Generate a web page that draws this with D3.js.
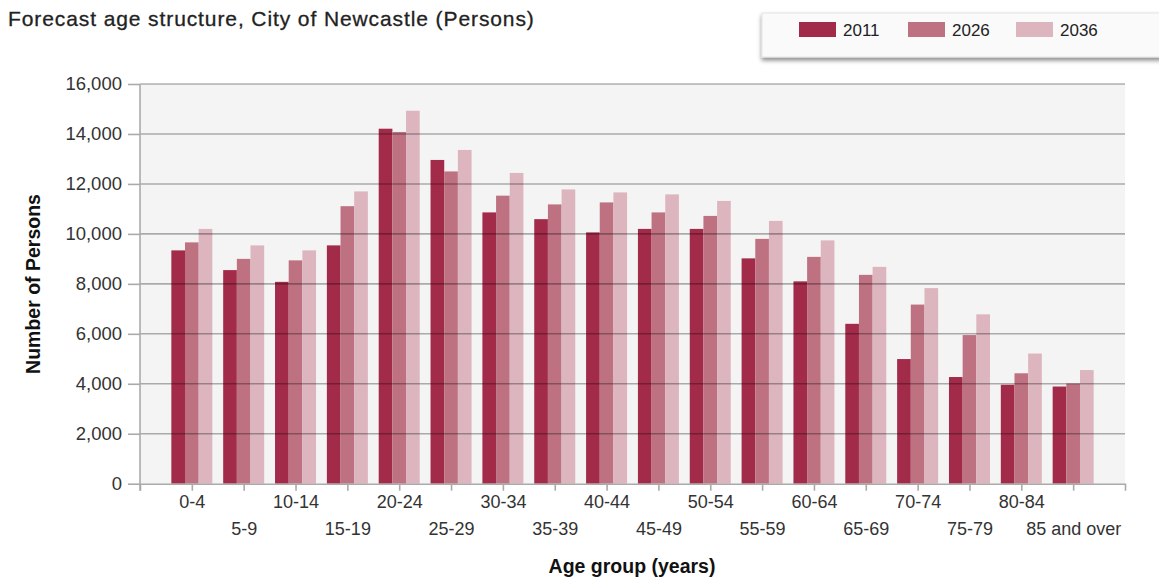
<!DOCTYPE html>
<html>
<head>
<meta charset="utf-8">
<script src="https://cdn.jsdelivr.net/npm/d3@7"></script>
<style>
  body { margin: 0; background: #fff; }
  text { font-family: "Liberation Sans", Arial, sans-serif; }
</style>
</head>
<body>
<div id="chart"></div>
<script>
// chart data
var ageGroups = ["0-4", "5-9", "10-14", "15-19", "20-24", "25-29", "30-34", "35-39", "40-44",
    "45-49", "50-54", "55-59", "60-64", "65-69", "70-74", "75-79", "80-84", "85 and over"];
var years = ["2011", "2026", "2036"];
var values2011 = [9340, 8550, 8080, 9540, 14210, 12960, 10860, 10590, 10060, 10200, 10200, 9020, 8100, 6400, 4990, 4270, 3960, 3890];
var values2026 = [9660, 9000, 8940, 11110, 14080, 12500, 11530, 11180, 11260, 10860, 10720, 9800, 9080, 8360, 7170, 5950, 4420, 4010];
var values2036 = [10200, 9540, 9340, 11700, 14930, 13360, 12440, 11780, 11660, 11580, 11320, 10520, 9740, 8680, 7830, 6780, 5210, 4550];
var yTicks = [0, 2000, 4000, 6000, 8000, 10000, 12000, 14000, 16000];

var seriesValues = { "2011": values2011, "2026": values2026, "2036": values2036 };

// colours for each year
var colorMapping = { "2011": "#a32b4a", "2026": "#be7281", "2036": "#ddb5bf" };

var w = 1159, h = 583;
var plotLeft = 140, plotRight = 1125, plotTop = 84, plotBottom = 483.7;

var svg = d3.select("#chart").append("svg")
    .attr("width", w)
    .attr("height", h);

// shadow for the legend box
var defs = svg.append("defs");
var filter = defs.append("filter").attr("id", "shadow")
    .attr("x", "-5%").attr("y", "-20%").attr("width", "110%").attr("height", "160%");
filter.append("feDropShadow")
    .attr("dx", 0).attr("dy", 3).attr("stdDeviation", 2)
    .attr("flood-color", "#000").attr("flood-opacity", 0.45);

// scales
var xScale = d3.scalePoint()
    .domain(ageGroups)
    .range([plotLeft, plotRight])
    .padding(1);

var innerScale = d3.scaleBand()
    .domain(years)
    .range([-20.5, 20.5]);

var yScale = d3.scaleLinear()
    .domain([0, 16000])
    .range([plotBottom, plotTop]);

// plot background
svg.append("rect")
    .attr("x", plotLeft).attr("y", plotTop)
    .attr("width", plotRight - plotLeft).attr("height", plotBottom - plotTop)
    .attr("fill", "#f4f4f4");

// bars
var rows = [];
ageGroups.forEach(function(age, i) {
    years.forEach(function(yr) {
        rows.push({ age: age, year: yr, value: seriesValues[yr][i] });
    });
});

svg.append("g").selectAll("rect")
    .data(rows)
    .enter()
    .append("rect")
    .attr("x", d => xScale(d.age) + innerScale(d.year))
    .attr("y", d => yScale(d.value))
    .attr("width", innerScale.bandwidth())
    .attr("height", d => yScale(0) - yScale(d.value))
    .attr("fill", d => colorMapping[d.year]);

// gridlines drawn on top, semi transparent
svg.append("g").selectAll("line")
    .data(yTicks.filter(d => d > 0))
    .enter()
    .append("line")
    .attr("x1", plotLeft).attr("x2", plotRight)
    .attr("y1", d => yScale(d)).attr("y2", d => yScale(d))
    .attr("stroke", "#000")
    .attr("stroke-opacity", 0.3)
    .attr("stroke-width", 1.6);

// y axis
var yAxis = svg.append("g")
    .attr("transform", `translate(${plotLeft},0)`)
    .call(d3.axisLeft(yScale).tickValues(yTicks).tickSize(12).tickSizeOuter(0).tickPadding(6)
        .tickFormat(d3.format(",")));
yAxis.select(".domain").attr("stroke", "#aaa").attr("stroke-width", 1.6)
    .attr("d", `M0,${plotTop}V${plotBottom + 7}`);
yAxis.selectAll(".tick line").attr("stroke", "#aaa").attr("stroke-width", 1.6);
yAxis.selectAll(".tick text")
    .attr("fill", "#333")
    .style("font-size", "18.5px")
    .style("font-family", "Liberation Sans, Arial, sans-serif");

// x axis
var xAxis = svg.append("g")
    .attr("transform", `translate(0,${plotBottom})`)
    .call(d3.axisBottom(xScale).tickSize(7).tickSizeOuter(7).tickPadding(8));
xAxis.select(".domain").attr("stroke", "#aaa").attr("stroke-width", 1.6);
xAxis.selectAll(".tick line").attr("stroke", "#aaa").attr("stroke-width", 1.6);
xAxis.selectAll(".tick text")
    .attr("fill", "#333")
    .attr("y", (d, i) => i % 2 === 0 ? 12 : 39)
    .attr("dy", "0.71em")
    .style("font-size", "18px")
    .style("font-family", "Liberation Sans, Arial, sans-serif");

// title
svg.append("text")
    .attr("x", 8).attr("y", 26)
    .attr("fill", "#222")
    .style("font-size", "21px")
    .style("letter-spacing", "0.9px")
    .style("stroke", "#222")
    .style("stroke-width", 0.3)
    .text("Forecast age structure, City of Newcastle (Persons)");

// axis labels
svg.append("text")
    .attr("text-anchor", "middle")
    .attr("x", 632).attr("y", 573)
    .attr("fill", "#111")
    .style("font-size", "19.5px")
    .style("font-weight", "bold")
    .text("Age group (years)");

svg.append("text")
    .attr("text-anchor", "middle")
    .attr("transform", "translate(40,284) rotate(-90)")
    .attr("fill", "#111")
    .style("font-size", "19.5px")
    .style("font-weight", "bold")
    .text("Number of Persons");

// legend
var legend = svg.append("g");
legend.append("rect")
    .attr("x", 762).attr("y", 13)
    .attr("width", 420).attr("height", 44)
    .attr("fill", "#fafafa")
    .attr("stroke", "#e4e4e4")
    .attr("filter", "url(#shadow)");

var legendX = [799, 908, 1016];
years.forEach(function(yr, i) {
    legend.append("rect")
        .attr("x", legendX[i]).attr("y", 22)
        .attr("width", 37).attr("height", 15)
        .attr("fill", colorMapping[yr]);
    legend.append("text")
        .attr("x", legendX[i] + 44).attr("y", 36)
        .attr("fill", "#222")
        .style("font-size", "17px")
        .text(yr);
});
</script>
</body>
</html>
